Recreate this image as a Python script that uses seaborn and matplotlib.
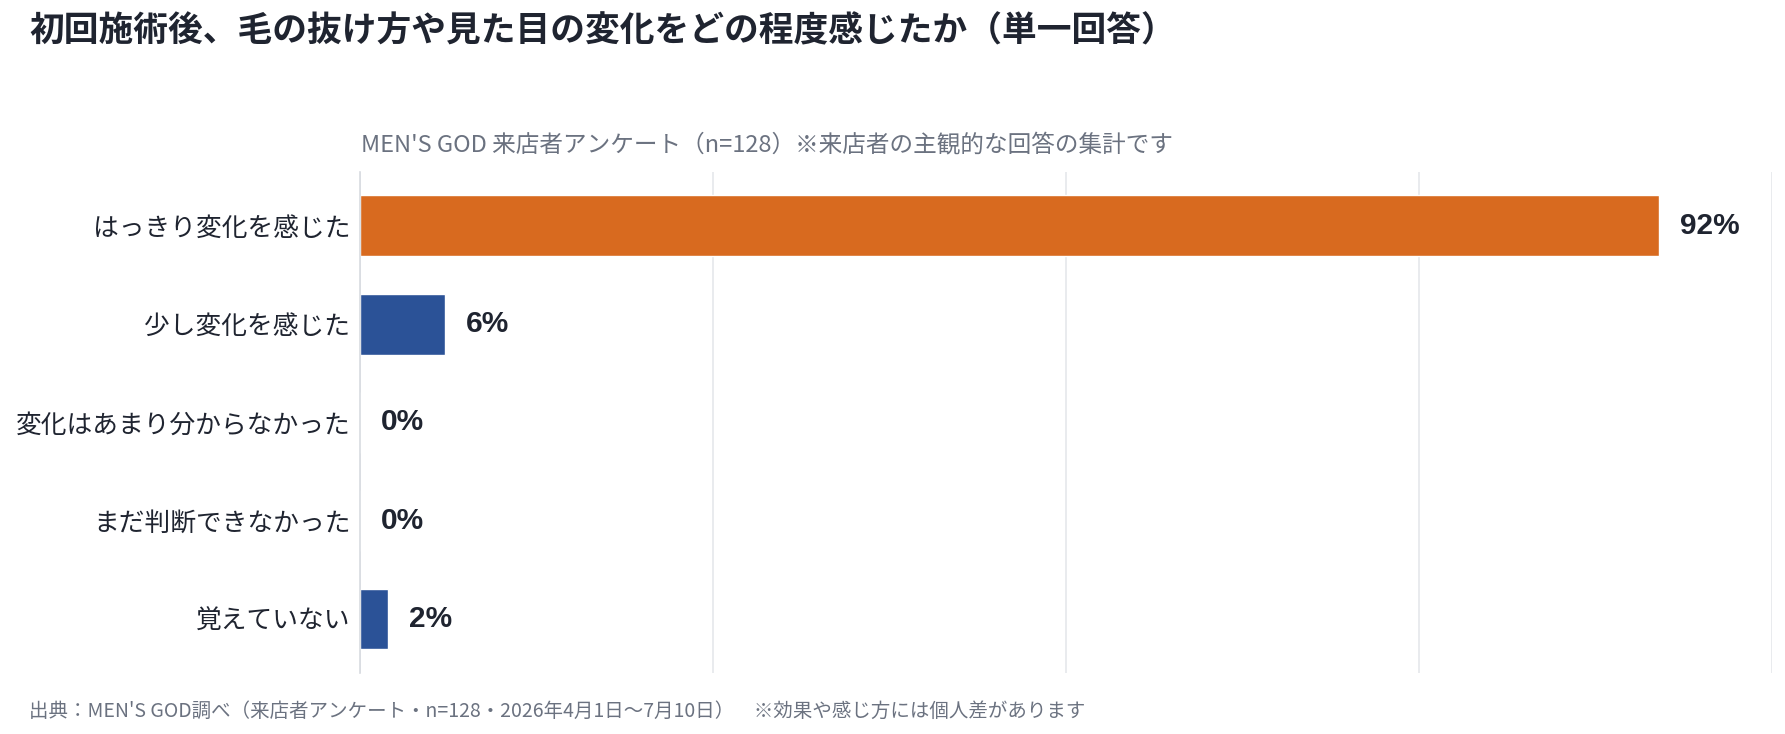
import pandas as pd
import matplotlib.pyplot as plt
import seaborn as sns

categories = ['はっきり変化を感じた', '少し変化を感じた', '変化はあまり分からなかった',
              'まだ判断できなかった', '覚えていない']
values = [92, 6, 0, 0, 2]
bar_colors = ['#D86A1F', '#2B5297', '#2B5297', '#2B5297', '#2B5297']
x_ticks = [0, 25, 50, 75, 100]

title = '初回施術後、毛の抜け方や見た目の変化をどの程度感じたか（単一回答）'
subtitle = 'MEN\'S GOD 来店者アンケート（n=128）※来店者の主観的な回答の集計です'
footer = '出典：MEN\'S GOD調べ（来店者アンケート・n=128・2026年4月1日〜7月10日）　※効果や感じ方には個人差があります'

sns.set_style('white')
plt.rcParams['font.family'] = ['Noto Sans CJK JP', 'DejaVu Sans']

df = pd.DataFrame({'category': categories, 'value': values})

fig = plt.figure(figsize=(17.85, 7.34), dpi=100)
ax = fig.add_axes([0.2018, 0.083, 0.7907, 0.683])

sns.barplot(data=df, x='value', y='category', hue='category', palette=bar_colors,
            legend=False, width=0.62, orient='h', ax=ax, saturation=1)

ax.set_xlim(0, 100)
ax.set_ylim(4.55, -0.55)
ax.set_xticks(x_ticks)
ax.set_xticklabels([])
ax.set_xlabel('')
ax.set_ylabel('')
ax.grid(axis='x', color='#e5e7eb', linewidth=1.2)
ax.grid(axis='y', visible=False)
ax.set_axisbelow(True)
for side in ['top', 'right', 'bottom']:
    ax.spines[side].set_visible(False)
ax.spines['left'].set_color('#d8dbe0')
ax.spines['left'].set_linewidth(1.2)
ax.tick_params(axis='both', length=0)
ax.tick_params(axis='y', labelsize=18.5, labelcolor='#1f2430', pad=7)

# value labels
for i, v in enumerate(values):
    ax.annotate(f'{v}%', xy=(v, i), xytext=(15, 0), textcoords='offset points',
                va='center', ha='left', fontsize=21.5, fontweight='bold', color='#1f2430',
                family=['Liberation Sans', 'Noto Sans CJK JP'])

fig.text(29 / 1785, 1 - 31 / 734, title, fontsize=25, fontweight='bold',
         color='#1f2430', va='center', ha='left')
fig.text(361 / 1785, 1 - 145 / 734, subtitle, fontsize=17, color='#6b7280',
         va='center', ha='left')
fig.text(29 / 1785, 1 - 711 / 734, footer, fontsize=14, color='#6b7280',
         va='center', ha='left')

fig.savefig('out.png', dpi=100, facecolor='white')
